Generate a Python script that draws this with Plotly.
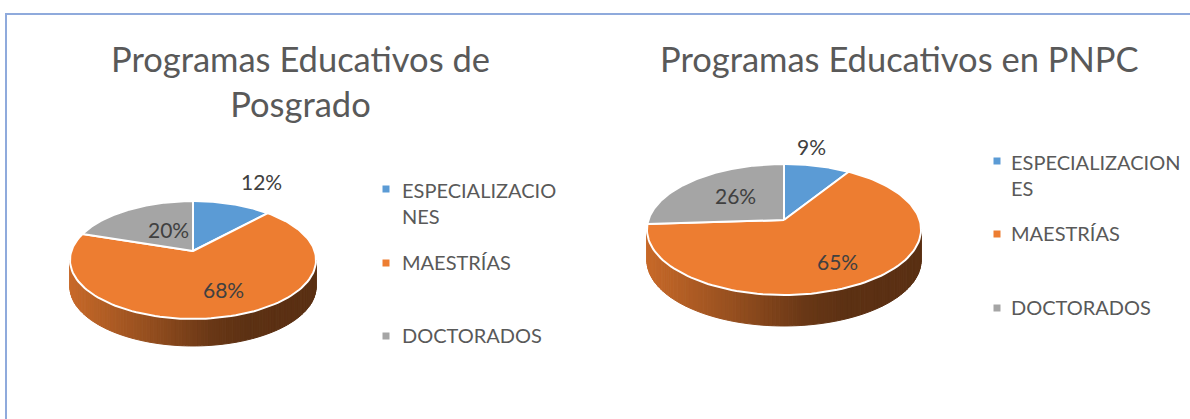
import numpy as np
import plotly.graph_objects as go

# ---- data ----
categories = ["ESPECIALIZACIONES", "MAESTRÍAS", "DOCTORADOS"]
posgrado_values = [12, 68, 20]
pnpc_values = [9, 65, 26]
title_posgrado = "Programas Educativos de<br>Posgrado"
title_pnpc = "Programas Educativos en PNPC"
legend_posgrado = ["ESPECIALIZACIO<br>NES", "MAESTRÍAS", "DOCTORADOS"]
legend_pnpc = ["ESPECIALIZACION<br>ES", "MAESTRÍAS", "DOCTORADOS"]

# ---- style / layout ----
COLORS = ["#5B9BD5", "#ED7D31", "#A5A5A5"]
FONT = "Lato"
W, H = 1190, 419
PIES = [
    dict(values=posgrado_values, cx=193, cy=251, a=121.6, b=57.6, k=0.1525, depth=27,
         labels=[(261, 181.5), (223, 289.5), (168, 229.5)],
         legend=legend_posgrado, mx=386, tx=400, my=[189, 263, 336], ty=[202.5, 262, 335],
         title=title_posgrado, tcx=300, tcy=81),
    dict(values=pnpc_values, cx=784, cy=220, a=135.6, b=64.1, k=0.145, depth=31,
         labels=[(811, 146), (837, 261.5), (735, 195.5)],
         legend=legend_pnpc, mx=997, tx=1009, my=[161, 234, 308], ty=[175, 233, 307],
         title=title_pnpc, tcx=899, tcy=58),
]
SHADE_POS = [0.0, 0.30, 0.58, 0.72, 1.0]
SHADE_VAL = [0.84, 0.64, 0.44, 0.39, 0.38]


def project(p, ang):
    """Angle clockwise from 12 o'clock on the disc -> page position (perspective)."""
    u, v = np.sin(ang), np.cos(ang)
    d = 1 + p["k"] * v
    return p["cx"] + p["a"] * u / d, p["cy"] - p["b"] * v / d


def shade(color, f):
    r, g, b = int(color[1:3], 16), int(color[3:5], 16), int(color[5:7], 16)
    return f"rgb({r*f:.0f},{g*f:.0f},{b*f:.0f})"


fig = go.Figure()

for p in PIES:
    vals = np.array(p["values"], float)
    edges = np.concatenate([[0], np.cumsum(vals)]) / vals.sum() * 2 * np.pi

    # side wall, front half of the rim
    start = np.pi / 2 + np.arcsin(p["k"])
    end = 3 * np.pi / 2 - np.arcsin(p["k"])
    ts = np.linspace(start, end, 111)
    xl, _ = project(p, end)
    xr, _ = project(p, start)
    for t0, t1 in zip(ts[:-1], ts[1:]):
        x0, y0 = project(p, t0)
        x1, y1 = project(p, t1)
        mid = (t0 + t1) / 2
        idx = int(np.searchsorted(edges, mid) - 1)
        f = np.interp(((x0 + x1) / 2 - xl) / (xr - xl), SHADE_POS, SHADE_VAL)
        c = shade(COLORS[idx], f)
        fig.add_trace(go.Scatter(
            x=[x0, x1, x1, x0, x0], y=[y0, y1, y1 + p["depth"], y0 + p["depth"], y0],
            mode="lines", fill="toself", fillcolor=c, line=dict(color=c, width=1),
            hoverinfo="skip", showlegend=False))

    # top of the disc
    for i, cat in enumerate(categories):
        angs = np.linspace(edges[i], edges[i + 1], 120)
        ex, ey = project(p, angs)
        xs = np.concatenate([[p["cx"]], ex, [p["cx"]]])
        ys = np.concatenate([[p["cy"]], ey, [p["cy"]]])
        fig.add_trace(go.Scatter(
            x=xs, y=ys, mode="lines", fill="toself", fillcolor=COLORS[i],
            line=dict(color="#FFFFFF", width=2), name=cat,
            text=f"{cat}: {p['values'][i]}%", hoverinfo="text", hoveron="fills",
            showlegend=False))

    # data labels
    for v, (lx, ly) in zip(p["values"], p["labels"]):
        fig.add_annotation(x=lx, y=ly, text=f"{v}%", showarrow=False,
                           font=dict(family=FONT, size=21, color="#404040"))

    # legend
    for i, lab in enumerate(p["legend"]):
        fig.add_trace(go.Scatter(
            x=[p["mx"]], y=[p["my"][i]], mode="markers",
            marker=dict(symbol="square", size=7, color=COLORS[i]),
            hoverinfo="skip", showlegend=False))
        fig.add_annotation(x=p["tx"], y=p["ty"][i], text=lab, showarrow=False,
                           xanchor="left", align="left", yanchor="middle",
                           font=dict(family=FONT, size=20, color="#595959"))

    # title
    fig.add_annotation(x=p["tcx"], y=p["tcy"], text=p["title"], showarrow=False,
                       align="center", font=dict(family=FONT, size=34.5, color="#595959"))

fig.update_layout(
    width=W, height=H, margin=dict(l=0, r=0, t=0, b=0), autosize=False,
    paper_bgcolor="white", plot_bgcolor="white", showlegend=False,
    xaxis=dict(range=[0, W], visible=False, fixedrange=True),
    yaxis=dict(range=[H, 0], visible=False, fixedrange=True),
    shapes=[
        dict(type="line", x0=6, x1=6, y0=14, y1=H, line=dict(color="#8FAADC", width=2)),
        dict(type="line", x0=5, x1=W, y0=14, y1=14, line=dict(color="#8FAADC", width=2)),
    ],
)
fig.write_html("out.html", config=dict(displayModeBar=False),
               post_script="document.body.style.margin='0';document.body.style.overflow='hidden';")
